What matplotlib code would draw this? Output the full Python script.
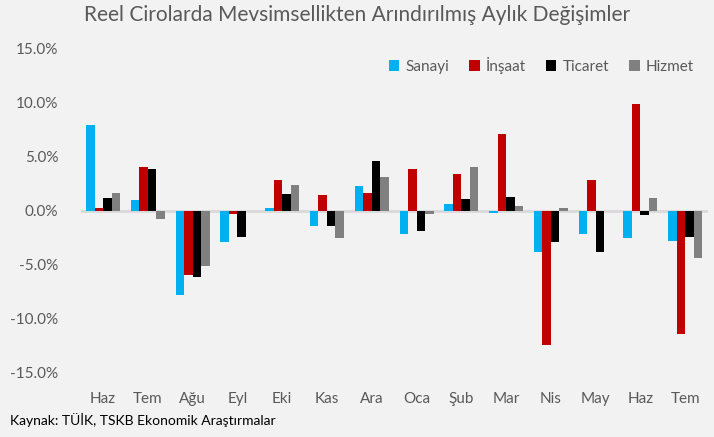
import numpy as np
import matplotlib.pyplot as plt

months = ['Haz', 'Tem', 'Ağu', 'Eyl', 'Eki', 'Kas', 'Ara', 'Oca', 'Şub', 'Mar', 'Nis', 'May', 'Haz', 'Tem']
sanayi = [7.9, 1.0, -7.8, -2.9, 0.25, -1.4, 2.3, -2.2, 0.6, -0.2, -3.8, -2.2, -2.55, -2.8]
insaat = [0.25, 4.05, -5.95, -0.35, 2.85, 1.45, 1.6, 3.8, 3.4, 7.1, -12.45, 2.8, 9.8, -11.4]
ticaret = [1.15, 3.8, -6.1, -2.4, 1.5, -1.4, 4.6, -1.85, 1.05, 1.25, -2.9, -3.8, -0.4, -2.45]
hizmet = [1.6, -0.75, -5.1, 0.0, 2.4, -2.55, 3.05, -0.3, 4.05, 0.45, 0.2, 0.0, 1.15, -4.4]

series = [('Sanayi', sanayi, '#00B0F0'), ('İnşaat', insaat, '#C00000'),
          ('Ticaret', ticaret, '#000000'), ('Hizmet', hizmet, '#808080')]

plt.rcParams['font.family'] = ['Lato', 'DejaVu Sans']
bg = '#F2F2F2'
fig = plt.figure(figsize=(7.14, 4.37), dpi=100, facecolor=bg)
ax = fig.add_axes([0.113, 0.1465, 0.878, 0.7435], facecolor=bg)

x = np.arange(len(months))
w = 0.19
for i, (name, vals, col) in enumerate(series):
    ax.bar(x + (i - 1.5) * w, vals, w, color=col, label=name, zorder=3)

ax.axhline(0, color='#D9D9D9', lw=2, zorder=2)
ax.set_xlim(-0.5, len(months) - 0.5)
ax.set_ylim(-15, 15)
ax.set_yticks(np.arange(-15, 16, 5))
ax.set_yticklabels([f'{v:.1f}%' for v in np.arange(-15, 16, 5)])
ax.set_xticks(x)
ax.set_xticklabels(months)
ax.tick_params(axis='y', length=0, pad=16, labelsize=11, labelcolor='#595959')
ax.tick_params(axis='x', length=0, pad=14, labelsize=11, labelcolor='#595959')
for s in ax.spines.values():
    s.set_visible(False)

ax.legend(loc='upper right', bbox_to_anchor=(1.0, 1.015), ncol=4, frameon=False,
          fontsize=11, labelcolor='#595959', handlelength=0.7, handleheight=0.7,
          handletextpad=0.4, columnspacing=1.3)

fig.text(0.5, 0.965, 'Reel Cirolarda Mevsimsellikten Arındırılmış Aylık Değişimler',
         ha='center', va='center', fontsize=15, color='#595959')
fig.text(0.014, 0.04, 'Kaynak: TÜİK, TSKB Ekonomik Araştırmalar',
         ha='left', va='center', fontsize=10, color='#000000')

fig.savefig('out.png', dpi=100, facecolor=bg)
